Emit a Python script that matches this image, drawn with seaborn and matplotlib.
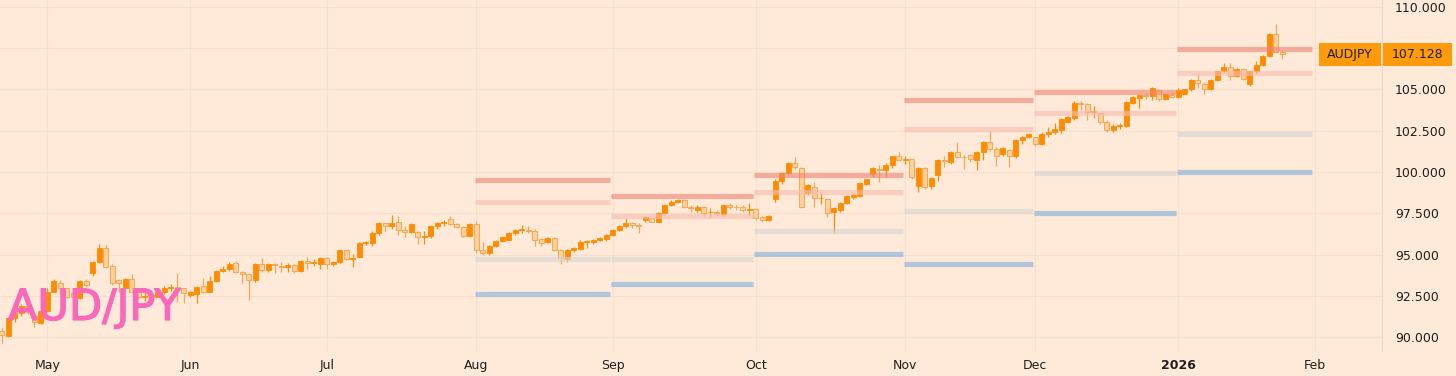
import numpy as np
import pandas as pd
import matplotlib
matplotlib.use("Agg")
import matplotlib.pyplot as plt
import matplotlib.patheffects as pe
import seaborn as sns
from matplotlib.transforms import blended_transform_factory
from matplotlib.patches import Rectangle

# ---------------- data ----------------
symbol = "AUD/JPY"
ticker = "AUDJPY"
start_date = "2025-04-22"
holidays = ["2025-12-25", "2026-01-01"]

open_ = [90.36, 90.08, 91.13, 91.44, 91.85, 91.3, 90.85, 91.55, 92.75, 93.3,
         92.95, 92.65, 92.35, 93.4, 93.85, 94.55, 95.37, 94.3, 93.45, 93.0,
         93.5, 92.75, 92.45, 92.5, 92.45, 92.75, 93.0, 93.05, 92.95, 92.55,
         92.6, 93.1, 92.75, 93.4, 94.0, 94.15, 94.5, 93.95, 93.8, 93.45,
         94.42, 94.05, 94.42, 94.3, 94.25, 94.36, 94.0, 94.6, 94.5, 94.4,
         94.77, 94.4, 94.56, 95.25, 94.7, 94.83, 95.68, 95.7, 96.33, 96.9,
         96.75, 96.98, 96.5, 96.35, 96.38, 96.08, 96.1, 96.72, 96.88, 97.13,
         96.85, 96.65, 96.12, 96.85, 95.3, 95.1, 95.5, 95.84, 95.9, 96.3,
         96.48, 96.5, 96.45, 95.92, 95.75, 95.98, 95.3, 94.72, 95.25, 95.35,
         95.78, 95.75, 95.86, 95.95, 96.18, 96.48, 96.73, 96.93, 96.8, 97.1,
         97.2, 97.0, 97.5, 98.0, 98.2, 98.3, 97.86, 97.72, 97.86, 97.55,
         97.6, 97.45, 98.0, 97.9, 97.86, 97.72, 97.75, 97.25, 97.1, 98.34,
         99.45, 99.92, 100.55, 100.22, 98.75, 99.1, 98.4, 98.35, 97.55, 97.7,
         98.14, 98.5, 98.55, 99.3, 99.9, 100.2, 100.12, 100.4, 100.97, 100.75,
         100.77, 99.15, 100.22, 99.15, 99.82, 100.73, 100.6, 101.23, 100.9, 101.03,
         100.75, 101.2, 101.84, 101.4, 101.1, 101.33, 100.95, 101.95, 102.1, 102.1,
         101.7, 102.33, 102.44, 102.55, 103.05, 103.25, 104.2, 104.12, 103.66, 103.55,
         103.05, 102.55, 102.79, 102.8, 104.2, 104.5, 104.69, 104.6, 104.95, 104.45,
         104.67, 104.55, 104.75, 105.0, 105.58, 105.35, 105.0, 105.58, 106.1, 106.36,
         105.82, 106.22, 105.33, 106.1, 106.5, 107.03, 108.36, 107.3]
high = [90.55, 91.23, 91.6, 92.0, 92.0, 91.45, 91.6, 92.95, 93.5, 93.45,
        93.0, 92.8, 93.45, 93.5, 94.6, 95.63, 95.58, 94.4, 93.5, 93.55,
        93.8, 92.95, 92.8, 92.7, 92.8, 93.1, 93.2, 93.85, 93.0, 92.8,
        93.1, 93.55, 93.7, 94.05, 94.3, 94.55, 94.6, 94.0, 93.85, 94.5,
        94.77, 94.5, 94.5, 94.55, 94.5, 94.45, 94.65, 94.85, 94.7, 94.85,
        94.85, 94.6, 95.3, 95.3, 95.05, 95.75, 95.8, 96.4, 96.95, 96.9,
        97.4, 97.33, 96.7, 96.9, 96.45, 96.4, 96.8, 96.95, 97.1, 97.33,
        96.9, 96.7, 96.9, 97.05, 95.75, 95.55, 95.9, 96.1, 96.35, 96.55,
        96.8, 96.75, 96.55, 96.0, 96.05, 96.05, 95.35, 95.35, 95.45, 95.85,
        95.9, 95.95, 96.05, 96.25, 96.55, 96.8, 97.2, 97.0, 96.9, 97.3,
        97.25, 97.55, 98.05, 98.3, 98.35, 98.35, 98.0, 98.0, 97.95, 97.8,
        97.7, 98.05, 98.1, 98.05, 98.0, 98.1, 97.8, 97.35, 97.4, 99.55,
        100.0, 100.62, 100.9, 100.3, 99.3, 99.4, 98.7, 98.4, 97.85, 98.2,
        98.6, 98.7, 99.4, 99.6, 100.3, 100.42, 100.55, 101.0, 101.2, 101.0,
        100.8, 100.3, 100.3, 99.7, 100.8, 100.95, 101.3, 101.8, 101.03, 101.1,
        101.3, 101.9, 102.5, 101.5, 101.5, 101.4, 102.0, 102.2, 102.35, 102.15,
        102.4, 102.75, 102.95, 103.25, 103.4, 104.3, 104.3, 104.2, 103.97, 103.6,
        103.15, 102.9, 103.0, 104.3, 104.6, 104.75, 104.78, 105.15, 105.0, 104.8,
        104.85, 105.1, 105.05, 105.65, 105.98, 105.45, 105.65, 106.15, 106.6, 106.6,
        106.3, 106.28, 106.15, 106.75, 107.1, 108.4, 108.97, 107.4]
low = [89.64, 90.0, 90.9, 91.3, 91.4, 90.6, 90.8, 91.5, 92.7, 92.6,
       92.35, 92.2, 92.3, 93.05, 93.7, 94.5, 94.2, 93.15, 92.75, 92.95,
       92.7, 92.3, 92.2, 92.3, 92.4, 92.6, 92.8, 92.15, 92.05, 92.4,
       92.05, 92.65, 92.7, 93.35, 93.95, 94.0, 93.9, 93.25, 92.25, 93.35,
       93.95, 93.95, 93.9, 93.95, 93.95, 93.9, 93.95, 94.1, 94.3, 94.1,
       94.15, 94.3, 94.5, 94.65, 94.25, 94.8, 95.6, 95.5, 96.2, 96.45,
       96.55, 96.2, 96.05, 96.3, 95.65, 95.65, 96.0, 96.55, 96.7, 96.8,
       96.6, 96.05, 96.05, 95.1, 94.95, 94.95, 95.45, 95.75, 95.85, 96.2,
       96.3, 96.3, 95.5, 95.5, 95.7, 95.2, 94.42, 94.55, 95.15, 95.3,
       95.4, 95.65, 95.8, 95.8, 96.1, 96.4, 96.6, 96.6, 96.33, 97.0,
       96.95, 96.95, 97.45, 97.95, 98.1, 97.8, 97.55, 97.55, 97.35, 97.3,
       97.35, 97.35, 97.75, 97.7, 97.55, 97.39, 97.1, 96.95, 97.05, 98.2,
       99.25, 99.85, 100.2, 97.8, 98.6, 97.86, 98.05, 97.3, 96.28, 97.6,
       98.05, 98.35, 98.5, 99.2, 99.7, 99.42, 99.7, 100.25, 100.7, 100.5,
       99.6, 98.8, 98.95, 98.95, 99.45, 100.3, 100.5, 100.85, 100.2, 100.6,
       100.12, 100.75, 101.3, 100.36, 101.0, 100.32, 100.85, 101.7, 102.05, 101.55,
       101.65, 102.1, 102.3, 102.35, 103.0, 103.15, 103.76, 103.15, 103.25, 102.9,
       102.45, 102.4, 102.6, 102.7, 104.1, 103.86, 104.4, 104.35, 104.3, 104.35,
       104.5, 104.5, 104.7, 104.9, 105.1, 104.73, 104.95, 105.5, 106.05, 105.6,
       105.75, 105.55, 105.2, 106.0, 106.4, 106.95, 107.2, 106.83]
close = [90.12, 91.17, 91.47, 91.9, 91.6, 90.9, 91.55, 92.75, 93.4, 92.95,
         92.45, 92.4, 93.4, 93.15, 94.55, 95.37, 94.26, 93.25, 93.3, 93.5,
         92.75, 92.45, 92.5, 92.55, 92.75, 93.0, 93.05, 92.9, 92.65, 92.7,
         93.05, 92.75, 93.4, 94.0, 94.15, 94.45, 93.96, 93.8, 93.45, 94.42,
         94.06, 94.42, 94.35, 94.25, 94.35, 93.98, 94.6, 94.5, 94.55, 94.77,
         94.4, 94.55, 95.27, 94.7, 94.8, 95.68, 95.7, 96.33, 96.92, 96.75,
         96.92, 96.48, 96.35, 96.85, 96.08, 96.12, 96.73, 96.89, 96.95, 96.85,
         96.65, 96.12, 96.85, 95.27, 95.1, 95.5, 95.84, 96.04, 96.32, 96.48,
         96.5, 96.45, 95.88, 95.7, 95.98, 95.27, 94.77, 95.27, 95.37, 95.78,
         95.8, 95.88, 95.98, 96.18, 96.48, 96.73, 96.93, 96.8, 96.7, 97.25,
         97.0, 97.5, 98.0, 98.2, 98.3, 97.86, 97.8, 97.85, 97.5, 97.6,
         97.5, 98.0, 97.9, 97.85, 97.72, 97.75, 97.2, 97.1, 97.33, 99.48,
         99.92, 100.57, 100.3, 97.86, 99.21, 98.4, 98.42, 97.5, 97.8, 98.14,
         98.55, 98.6, 99.35, 99.56, 100.22, 100.15, 100.42, 100.97, 100.75, 100.78,
         99.7, 100.22, 99.11, 99.62, 100.73, 100.64, 101.23, 100.9, 100.88, 100.77,
         101.23, 101.84, 101.37, 100.94, 101.43, 100.97, 101.94, 102.1, 102.28, 101.7,
         102.33, 102.44, 102.58, 103.19, 103.31, 104.2, 104.15, 103.66, 103.7, 103.05,
         102.55, 102.79, 102.85, 104.26, 104.53, 104.69, 104.62, 105.07, 104.45, 104.73,
         104.55, 104.97, 105.0, 105.58, 105.4, 105.0, 105.58, 106.1, 106.34, 105.82,
         106.22, 105.62, 106.1, 106.5, 107.03, 108.36, 107.3, 107.128]

# monthly pivot levels (R2, R1, S1, S2)
level_months = ["2025-08", "2025-09", "2025-10", "2025-11", "2025-12", "2026-01"]
r2 = [99.52, 98.55, 99.80, 104.35, 104.83, 107.44]
r1 = [98.16, 97.33, 98.81, 102.59, 103.56, 105.98]
s1 = [94.71, 94.71, 96.42, 97.62, 99.92, 102.30]
s2 = [92.59, 93.21, 95.05, 94.42, 97.50, 100.02]

month_keys = ["2025-05", "2025-06", "2025-07", "2025-08", "2025-09", "2025-10",
              "2025-11", "2025-12", "2026-01", "2026-02"]
month_labels = ["May", "Jun", "Jul", "Aug", "Sep", "Oct", "Nov", "Dec", "2026", "Feb"]
yticks = [90.0, 92.5, 95.0, 97.5, 100.0, 102.5, 105.0, 107.5, 110.0]

# ---------------- style ----------------
BG = "#FFE9D8"
UP = "#FF8C00"
DN_FILL = "#FFCF98"
DN_EDGE = "#F2A858"
GRID = "#F8DECB"
TXT = "#1F1F1F"
PINK = "#FA68BA"
LEVEL_COLORS = {"r2": "#EC8474", "r1": "#F6BCAE", "s1": "#D3D6D4", "s2": "#7DB0DE"}

sns.set_theme(style="white", rc={"axes.facecolor": BG, "figure.facecolor": BG})
plt.rcParams["font.family"] = ["DejaVu Sans"]

W, H = 1456, 376
fig = plt.figure(figsize=(W / 100, H / 100), dpi=100)
ax_bottom_px = 351
ax = fig.add_axes([0, (H - ax_bottom_px) / H, 1382 / W, ax_bottom_px / H])

# ---------------- calendar / index ----------------
cal = pd.bdate_range(start_date, "2026-03-31")
cal = cal[~cal.isin(pd.to_datetime(holidays))]
n = len(close)
dates = cal[:n]
cal_keys = np.array(cal.strftime("%Y-%m"))
first_idx = {k: int(np.argmax(cal_keys == k)) for k in month_keys}

df = pd.DataFrame({"date": dates, "idx": np.arange(n), "open": open_,
                   "high": high, "low": low, "close": close})
df["up"] = df["close"] >= df["open"]

# ---------------- candles ----------------
up = df[df["up"]]
dn = df[~df["up"]]
min_body = 0.05
ax.vlines(up["idx"], up["low"], up["high"], color=UP, lw=0.9, zorder=2)
ax.vlines(dn["idx"], dn["low"], dn["high"], color=DN_EDGE, lw=0.9, zorder=2)
ax.bar(up["idx"], np.maximum((up["close"] - up["open"]).abs(), min_body),
       bottom=np.minimum(up["open"], up["close"]), width=0.72,
       color=UP, edgecolor=UP, linewidth=0.6, zorder=3)
ax.bar(dn["idx"], np.maximum((dn["close"] - dn["open"]).abs(), min_body),
       bottom=np.minimum(dn["open"], dn["close"]), width=0.72,
       color=DN_FILL, edgecolor=DN_EDGE, linewidth=0.7, zorder=3)

# ---------------- pivot level segments ----------------
rows = []
next_keys = level_months[1:] + ["2026-02"]
for i, (m, mn) in enumerate(zip(level_months, next_keys)):
    x0 = first_idx[m] - 0.25
    x1 = first_idx[mn] - 0.4
    for name, arr in (("r2", r2), ("r1", r1), ("s1", s1), ("s2", s2)):
        seg = f"{m}-{name}"
        rows.append({"x": x0, "price": arr[i], "level": name, "seg": seg})
        rows.append({"x": x1, "price": arr[i], "level": name, "seg": seg})
lv = pd.DataFrame(rows)
sns.lineplot(data=lv, x="x", y="price", hue="level", units="seg", estimator=None,
             palette=LEVEL_COLORS, linewidth=3.7, alpha=0.6, legend=False,
             ax=ax, zorder=4, solid_capstyle="butt")

# ---------------- axes ----------------
px_per_bar = 6.5
x_left = -1.7 / px_per_bar
x_right = (1382 - 1.7) / px_per_bar
ax.set_xlim(x_left, x_right)
y_top, y_bot = 110.424, 89.152
ax.set_ylim(y_bot, y_top)

xt = [first_idx[k] for k in month_keys]
ax.set_xticks(xt)
ax.set_xticklabels(month_labels)
for lab in ax.get_xticklabels():
    if lab.get_text() == "2026":
        lab.set_fontweight("bold")
ax.yaxis.tick_right()
ax.set_yticks(yticks)
ax.set_yticklabels([f"{v:.3f}" for v in yticks])
ax.tick_params(axis="x", length=0, pad=5.5, labelsize=9, labelcolor=TXT)
ax.tick_params(axis="y", length=0, pad=9.4, labelsize=9, labelcolor=TXT)
ax.set_xlabel("")
ax.set_ylabel("")
ax.grid(True, color=GRID, lw=0.8, zorder=0)
ax.set_axisbelow(True)
for s in ("top", "left", "bottom"):
    ax.spines[s].set_visible(False)
ax.spines["right"].set_color("#F3D6C0")
ax.spines["right"].set_linewidth(0.8)

# ---------------- last price label ----------------
last = close[-1]
box_h = 23 * (y_top - y_bot) / ax_bottom_px
tr = blended_transform_factory(fig.transFigure, ax.transData)
ax.add_patch(Rectangle((1319 / W, last - box_h / 2), 62 / W, box_h, transform=tr,
                       facecolor="#FF9A0A", edgecolor="none", clip_on=False, zorder=10))
ax.add_patch(Rectangle((1383 / W, last - box_h / 2), 69 / W, box_h, transform=tr,
                       facecolor="#FF9A0A", edgecolor="none", clip_on=False, zorder=10))
ax.text(1350 / W, last, ticker, transform=tr, ha="center", va="center",
        fontsize=9, color=TXT, zorder=11, clip_on=False)
ax.text(1417.5 / W, last, f"{last:.3f}", transform=tr, ha="center", va="center",
        fontsize=9, color=TXT, zorder=11, clip_on=False)

# ---------------- symbol watermark ----------------
fig.text(8 / W, (H - 320) / H, symbol, ha="left", va="baseline",
         fontsize=31.0, color=PINK, zorder=20,
         path_effects=[pe.withStroke(linewidth=0.9, foreground=PINK)])

fig.savefig("out.png", dpi=100, facecolor=BG)
